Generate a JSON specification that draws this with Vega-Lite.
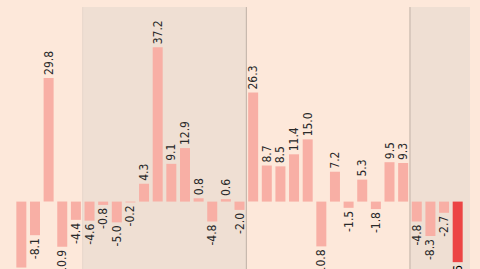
{
  "$schema": "https://vega.github.io/schema/vega-lite/v6.json",
  "width": 480,
  "height": 269,
  "autosize": "none",
  "padding": 0,
  "background": "#fde8da",
  "config": {"view": {"stroke": null}},
  "datasets": {
    "bars": [
      {"i": 1, "v": -15.9, "lab": "-15.9", "type": "past"},
      {"i": 2, "v": -8.1, "lab": "-8.1", "type": "past"},
      {"i": 3, "v": 29.8, "lab": "29.8", "type": "past"},
      {"i": 4, "v": -10.9, "lab": "-10.9", "type": "past"},
      {"i": 5, "v": -4.4, "lab": "-4.4", "type": "past"},
      {"i": 6, "v": -4.6, "lab": "-4.6", "type": "past"},
      {"i": 7, "v": -0.8, "lab": "-0.8", "type": "past"},
      {"i": 8, "v": -5.0, "lab": "-5.0", "type": "past"},
      {"i": 9, "v": -0.2, "lab": "-0.2", "type": "past"},
      {"i": 10, "v": 4.3, "lab": "4.3", "type": "past"},
      {"i": 11, "v": 37.2, "lab": "37.2", "type": "past"},
      {"i": 12, "v": 9.1, "lab": "9.1", "type": "past"},
      {"i": 13, "v": 12.9, "lab": "12.9", "type": "past"},
      {"i": 14, "v": 0.8, "lab": "0.8", "type": "past"},
      {"i": 15, "v": -4.8, "lab": "-4.8", "type": "past"},
      {"i": 16, "v": 0.6, "lab": "0.6", "type": "past"},
      {"i": 17, "v": -2.0, "lab": "-2.0", "type": "past"},
      {"i": 18, "v": 26.3, "lab": "26.3", "type": "past"},
      {"i": 19, "v": 8.7, "lab": "8.7", "type": "past"},
      {"i": 20, "v": 8.5, "lab": "8.5", "type": "past"},
      {"i": 21, "v": 11.4, "lab": "11.4", "type": "past"},
      {"i": 22, "v": 15.0, "lab": "15.0", "type": "past"},
      {"i": 23, "v": -10.8, "lab": "-10.8", "type": "past"},
      {"i": 24, "v": 7.2, "lab": "7.2", "type": "past"},
      {"i": 25, "v": -1.5, "lab": "-1.5", "type": "past"},
      {"i": 26, "v": 5.3, "lab": "5.3", "type": "past"},
      {"i": 27, "v": -1.8, "lab": "-1.8", "type": "past"},
      {"i": 28, "v": 9.5, "lab": "9.5", "type": "past"},
      {"i": 29, "v": 9.3, "lab": "9.3", "type": "past"},
      {"i": 30, "v": -4.8, "lab": "-4.8", "type": "past"},
      {"i": 31, "v": -8.3, "lab": "-8.3", "type": "past"},
      {"i": 32, "v": -2.7, "lab": "-2.7", "type": "past"},
      {"i": 33, "v": -14.6, "lab": "-14.6", "type": "latest"}
    ],
    "regions": [
      {"start": 5.5, "end": 17.5},
      {"start": 29.5, "end": 33.9}
    ],
    "edges": [
      {"at": 5.5, "strength": "faint"},
      {"at": 17.5, "strength": "line"},
      {"at": 29.5, "strength": "line"}
    ]
  },
  "layer": [
    {
      "data": {"name": "regions"},
      "mark": {"type": "rect", "color": "#efdfd3"},
      "encoding": {
        "x": {"field": "start", "type": "quantitative", "scale": {"domain": [-0.199, 34.27], "nice": false, "zero": false}, "axis": null},
        "x2": {"field": "end"},
        "y": {"datum": 46.9, "type": "quantitative", "scale": {"domain": [-16.25, 48.6], "nice": false, "zero": false}, "axis": null},
        "y2": {"datum": -16.25}
      }
    },
    {
      "data": {"name": "edges"},
      "mark": {"type": "rule", "strokeWidth": 1},
      "encoding": {
        "x": {"field": "at", "type": "quantitative"},
        "y": {"datum": 46.9, "type": "quantitative"},
        "y2": {"datum": -16.25},
        "color": {"field": "strength", "type": "nominal", "scale": {"domain": ["faint", "line"], "range": ["#e6d6cb", "#bfb0a6"]}, "legend": null}
      }
    },
    {
      "data": {"name": "bars"},
      "mark": {"type": "bar", "width": 10},
      "encoding": {
        "x": {"field": "i", "type": "quantitative"},
        "y": {"field": "v", "type": "quantitative"},
        "y2": {"datum": 0},
        "color": {"field": "type", "type": "nominal", "scale": {"domain": ["past", "latest"], "range": ["#f8afa5", "#ec4444"]}, "legend": null}
      }
    },
    {
      "data": {"name": "bars"},
      "transform": [{"filter": "datum.v >= 0"}],
      "mark": {"type": "text", "angle": 270, "align": "left", "baseline": "middle", "dx": 3, "font": "DejaVu Sans Condensed, Roboto, sans-serif", "fontSize": 12, "color": "#2a2a2a"},
      "encoding": {
        "x": {"field": "i", "type": "quantitative"},
        "y": {"field": "v", "type": "quantitative"},
        "text": {"field": "lab", "type": "nominal"}
      }
    },
    {
      "data": {"name": "bars"},
      "transform": [{"filter": "datum.v < 0"}],
      "mark": {"type": "text", "angle": 270, "align": "right", "baseline": "middle", "dx": -3, "font": "DejaVu Sans Condensed, Roboto, sans-serif", "fontSize": 12},
      "encoding": {
        "x": {"field": "i", "type": "quantitative"},
        "y": {"field": "v", "type": "quantitative"},
        "text": {"field": "lab", "type": "nominal"},
        "color": {"field": "type", "type": "nominal", "scale": {"domain": ["past", "latest"], "range": ["#2a2a2a", "#000000"]}, "legend": null},
        "fontWeight": {"field": "type", "type": "nominal", "scale": {"domain": ["past", "latest"], "range": ["normal", "bold"]}, "legend": null}
      }
    },
    {
      "mark": {"type": "rule", "color": "#111111", "strokeWidth": 3.5},
      "encoding": {
        "x": {"datum": 0.09, "type": "quantitative"},
        "x2": {"datum": 33.96},
        "y": {"datum": 0, "type": "quantitative"}
      }
    }
  ],
  "resolve": {"scale": {"color": "independent"}}
}
